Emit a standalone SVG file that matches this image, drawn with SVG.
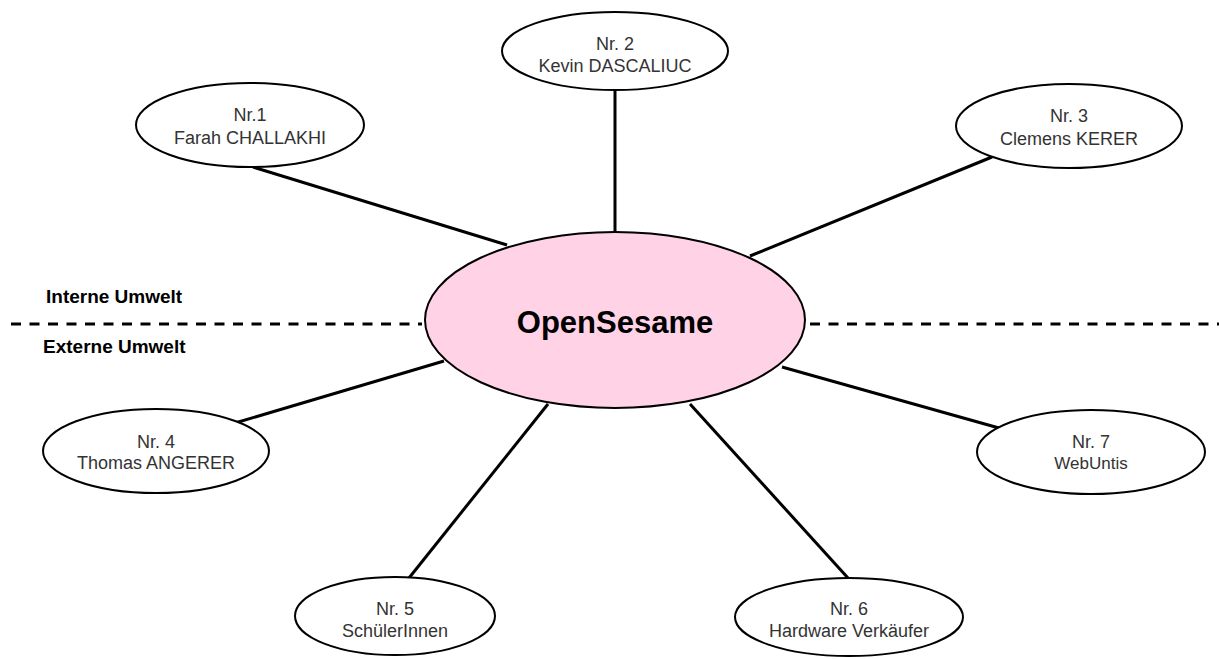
<svg xmlns="http://www.w3.org/2000/svg" width="1219" height="659" viewBox="0 0 1219 659">
  <style>
    .bg { fill: #ffffff; }
    .node { fill: #ffffff; stroke: #000000; stroke-width: 2; }
    .core { fill: #ffd2e6; stroke: #000000; stroke-width: 2; }
    .label { font-family: "Liberation Sans", Arial, sans-serif; font-size: 18px; fill: #333333; text-anchor: middle; }
    .title { font-family: "Liberation Sans", Arial, sans-serif; font-size: 31px; font-weight: bold; fill: #000000; text-anchor: middle; }
    .zone { font-family: "Liberation Sans", Arial, sans-serif; font-size: 19px; font-weight: bold; fill: #000000; }
    .edge { stroke: #000000; stroke-width: 3; fill: none; }
    .divider { stroke: #000000; stroke-width: 3; stroke-dasharray: 10 8.5; fill: none; }
  </style>
  <rect class="bg" x="0" y="0" width="1219" height="659"/>

  <!-- boundary between internal and external environment -->
  <g id="boundary">
    <line class="divider" x1="11" y1="324" x2="422" y2="324"/>
    <line class="divider" x1="810" y1="324" x2="1219" y2="324"/>
    <text class="zone" x="46" y="303">Interne Umwelt</text>
    <text class="zone" x="43" y="353">Externe Umwelt</text>
  </g>

  <g id="connectors">
    <line class="edge" x1="253" y1="167" x2="507" y2="245"/>
    <line class="edge" x1="615" y1="90" x2="615" y2="232"/>
    <line class="edge" x1="992" y1="157" x2="750" y2="256"/>
    <line class="edge" x1="235" y1="423" x2="444" y2="361"/>
    <line class="edge" x1="409" y1="578" x2="548" y2="404"/>
    <line class="edge" x1="848" y1="578" x2="690" y2="404"/>
    <line class="edge" x1="999" y1="428" x2="782" y2="367"/>
  </g>

  <g id="opensesame">
    <ellipse class="core" cx="615" cy="320" rx="190" ry="88"/>
    <text class="title" x="615" y="333">OpenSesame</text>
  </g>

  <g id="nr1">
    <ellipse class="node" cx="250" cy="125" rx="114" ry="42"/>
    <text class="label" x="250" y="121">Nr.1</text>
    <text class="label" x="250" y="144">Farah CHALLAKHI</text>
  </g>

  <g id="nr2">
    <ellipse class="node" cx="615" cy="51" rx="113" ry="39"/>
    <text class="label" x="615" y="50">Nr. 2</text>
    <text class="label" x="615" y="72">Kevin DASCALIUC</text>
  </g>

  <g id="nr3">
    <ellipse class="node" cx="1069" cy="126" rx="113" ry="42"/>
    <text class="label" x="1069" y="122">Nr. 3</text>
    <text class="label" x="1069" y="145">Clemens KERER</text>
  </g>

  <g id="nr4">
    <ellipse class="node" cx="156" cy="451" rx="113" ry="42"/>
    <text class="label" x="156" y="448">Nr. 4</text>
    <text class="label" x="156" y="469">Thomas ANGERER</text>
  </g>

  <g id="nr5">
    <ellipse class="node" cx="395" cy="616" rx="100" ry="39"/>
    <text class="label" x="395" y="615">Nr. 5</text>
    <text class="label" x="395" y="637">SchülerInnen</text>
  </g>

  <g id="nr6">
    <ellipse class="node" cx="849" cy="617" rx="114" ry="39"/>
    <text class="label" x="849" y="615">Nr. 6</text>
    <text class="label" x="849" y="637">Hardware Verkäufer</text>
  </g>

  <g id="nr7">
    <ellipse class="node" cx="1091" cy="452" rx="114" ry="42"/>
    <text class="label" x="1091" y="448">Nr. 7</text>
    <text class="label" x="1091" y="469" style="font-size:17px">WebUntis</text>
  </g>
</svg>
